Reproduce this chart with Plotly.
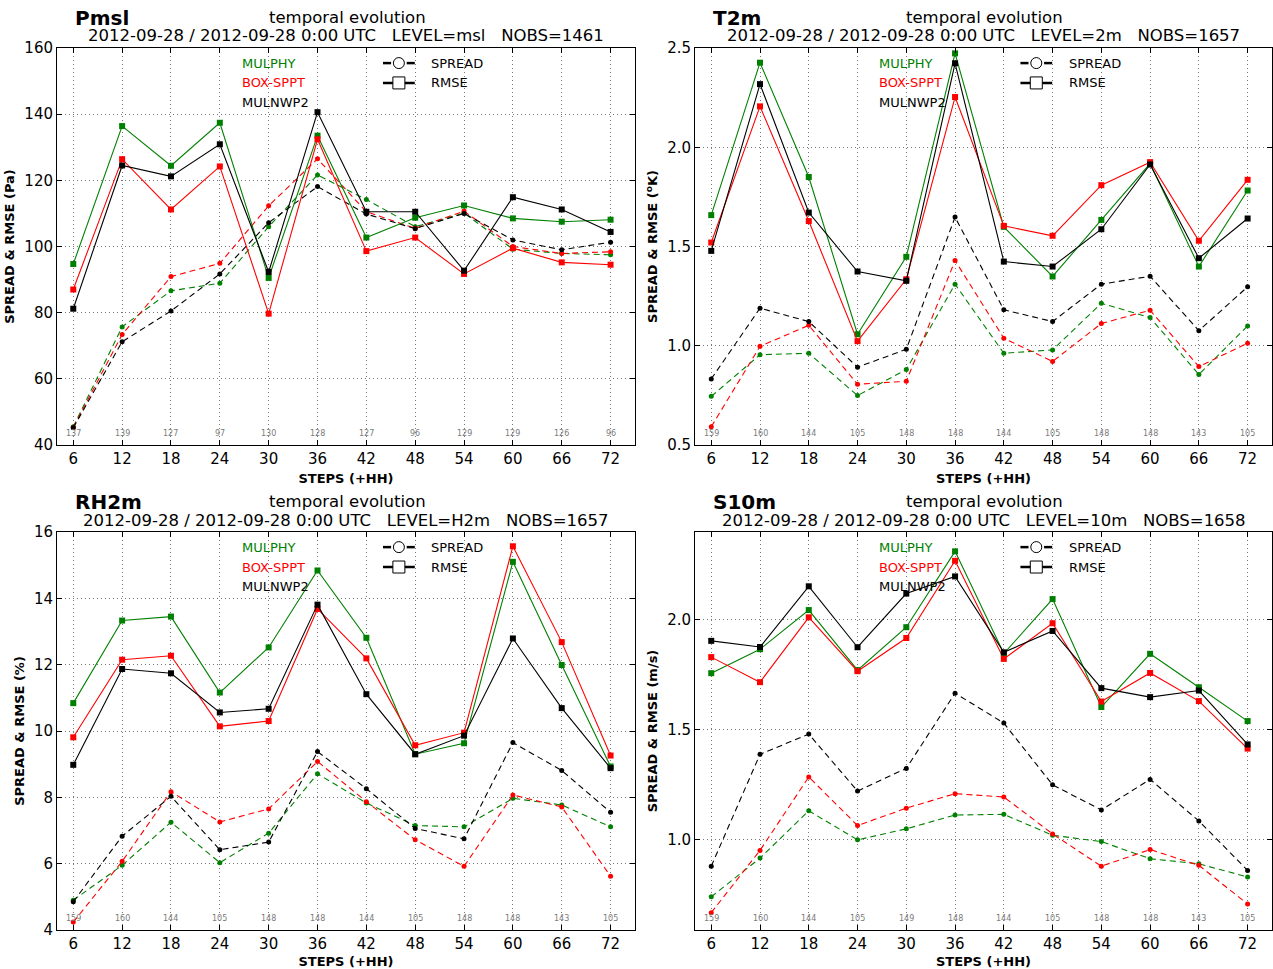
import plotly.graph_objects as go

steps = [6, 12, 18, 24, 30, 36, 42, 48, 54, 60, 66, 72]
experiments = ["MULPHY", "BOX-SPPT", "MULNWP2"]
colors = {"MULPHY": "#008000", "BOX-SPPT": "#ff0000", "MULNWP2": "#000000"}

# ---- Pmsl ----
pmsl_rmse_mulphy = [94.7, 136.4, 124.4, 137.4, 90.5, 133.5, 102.7, 108.7, 112.4, 108.5, 107.5, 108.1]
pmsl_rmse_box = [87.0, 126.4, 111.2, 124.2, 79.7, 132.4, 98.6, 102.7, 91.7, 99.5, 95.2, 94.5]
pmsl_rmse_nwp = [81.2, 124.5, 121.2, 130.9, 92.3, 140.6, 110.5, 110.5, 92.7, 114.9, 111.2, 104.4]
pmsl_spread_mulphy = [45.5, 75.7, 86.6, 88.9, 106.0, 121.6, 114.2, 106.0, 110.1, 99.2, 97.9, 97.5]
pmsl_spread_box = [45.3, 73.4, 90.9, 94.9, 112.3, 126.5, 110.5, 105.5, 110.7, 100.0, 97.9, 98.4]
pmsl_spread_nwp = [45.2, 71.2, 80.5, 91.7, 107.2, 118.1, 109.8, 105.4, 110.0, 102.0, 99.0, 101.3]
pmsl_nobs = [137, 139, 127, 97, 130, 128, 127, 96, 129, 129, 126, 96]

# ---- T2m ----
t2m_rmse_mulphy = [1.658, 2.426, 1.850, 1.058, 1.448, 2.473, 1.599, 1.349, 1.634, 1.918, 1.399, 1.782]
t2m_rmse_box = [1.520, 2.206, 1.628, 1.023, 1.335, 2.253, 1.604, 1.554, 1.809, 1.925, 1.529, 1.836]
t2m_rmse_nwp = [1.478, 2.318, 1.671, 1.374, 1.327, 2.423, 1.424, 1.399, 1.587, 1.913, 1.441, 1.641]
t2m_spread_mulphy = [0.745, 0.955, 0.962, 0.749, 0.880, 1.310, 0.962, 0.979, 1.214, 1.142, 0.855, 1.100]
t2m_spread_box = [0.592, 0.997, 1.103, 0.806, 0.821, 1.429, 1.038, 0.921, 1.112, 1.179, 0.895, 1.013]
t2m_spread_nwp = [0.833, 1.189, 1.122, 0.892, 0.982, 1.648, 1.181, 1.122, 1.310, 1.350, 1.076, 1.297]
t2m_nobs = [159, 160, 144, 105, 148, 148, 144, 105, 148, 148, 143, 105]

# ---- RH2m ----
rh_rmse_mulphy = [10.84, 13.33, 13.45, 11.16, 12.52, 14.84, 12.81, 9.30, 9.63, 15.10, 11.99, 8.93]
rh_rmse_box = [9.81, 12.15, 12.27, 10.14, 10.30, 13.68, 12.19, 9.57, 9.95, 15.57, 12.68, 9.26]
rh_rmse_nwp = [8.98, 11.87, 11.74, 10.56, 10.67, 13.81, 11.11, 9.30, 9.86, 12.79, 10.69, 8.88]
rh_spread_mulphy = [4.90, 5.95, 7.25, 6.03, 6.92, 8.71, 7.83, 7.15, 7.11, 7.97, 7.77, 7.11]
rh_spread_box = [4.24, 6.07, 8.17, 7.26, 7.65, 9.08, 7.87, 6.72, 5.92, 8.07, 7.71, 5.62]
rh_spread_nwp = [4.85, 6.83, 8.03, 6.42, 6.65, 9.38, 8.26, 7.06, 6.75, 9.65, 8.81, 7.55]
rh_nobs = [159, 160, 144, 105, 148, 148, 144, 105, 148, 148, 143, 105]

# ---- S10m ----
s10_rmse_mulphy = [1.758, 1.867, 2.045, 1.772, 1.967, 2.312, 1.847, 2.095, 1.604, 1.846, 1.694, 1.540]
s10_rmse_box = [1.831, 1.717, 2.012, 1.767, 1.918, 2.269, 1.823, 1.985, 1.629, 1.759, 1.631, 1.415]
s10_rmse_nwp = [1.905, 1.877, 2.153, 1.876, 2.120, 2.198, 1.853, 1.950, 1.690, 1.649, 1.679, 1.434]
s10_spread_mulphy = [0.741, 0.917, 1.132, 1.000, 1.050, 1.113, 1.116, 1.021, 0.992, 0.914, 0.891, 0.831]
s10_spread_box = [0.669, 0.952, 1.286, 1.065, 1.144, 1.210, 1.195, 1.027, 0.880, 0.956, 0.884, 0.708]
s10_spread_nwp = [0.880, 1.389, 1.481, 1.222, 1.325, 1.667, 1.531, 1.250, 1.136, 1.275, 1.086, 0.861]
s10_nobs = [159, 160, 144, 105, 149, 148, 144, 105, 148, 148, 143, 105]

panels = [
    dict(name="Pmsl", level="msl", nobs_total=1461, unit="Pa",
         rmse=[pmsl_rmse_mulphy, pmsl_rmse_box, pmsl_rmse_nwp],
         spread=[pmsl_spread_mulphy, pmsl_spread_box, pmsl_spread_nwp],
         nobs=pmsl_nobs, yrange=[40, 160], dtick=20, tick0=40, fmt="d"),
    dict(name="T2m", level="2m", nobs_total=1657, unit="<sup>o</sup>K",
         rmse=[t2m_rmse_mulphy, t2m_rmse_box, t2m_rmse_nwp],
         spread=[t2m_spread_mulphy, t2m_spread_box, t2m_spread_nwp],
         nobs=t2m_nobs, yrange=[0.5, 2.5], dtick=0.5, tick0=0.5, fmt=".1f"),
    dict(name="RH2m", level="H2m", nobs_total=1657, unit="%",
         rmse=[rh_rmse_mulphy, rh_rmse_box, rh_rmse_nwp],
         spread=[rh_spread_mulphy, rh_spread_box, rh_spread_nwp],
         nobs=rh_nobs, yrange=[4, 16], dtick=2, tick0=4, fmt="d"),
    dict(name="S10m", level="10m", nobs_total=1658, unit="m/s",
         rmse=[s10_rmse_mulphy, s10_rmse_box, s10_rmse_nwp],
         spread=[s10_spread_mulphy, s10_spread_box, s10_spread_nwp],
         nobs=s10_nobs, yrange=[0.59, 2.40], dtick=0.5, tick0=0.5, fmt=".1f"),
]

W, H = 1273, 969
# pixel boxes (left, top, right, bottom)
boxes = [(57, 48, 635, 445), (695, 48, 1272, 445), (57, 532, 635, 930), (695, 532, 1272, 930)]

FONT = "DejaVu Sans"
fig = go.Figure()
layout = dict(width=W, height=H, margin=dict(l=0, r=0, t=0, b=0, autoexpand=False),
              paper_bgcolor="white", plot_bgcolor="white", showlegend=False,
              font=dict(family=FONT, color="black"))
annotations = []
shapes = []

for i, (p, box) in enumerate(zip(panels, boxes)):
    n = "" if i == 0 else str(i + 1)
    xa, ya = "x" + n, "y" + n
    l, t, r, b = box
    layout["xaxis" + n] = dict(
        domain=[l / W, r / W], anchor=ya, range=[4, 75], automargin=False,
        tickmode="array", tickvals=steps, ticktext=[str(s) for s in steps],
        ticks="inside", ticklen=5, tickcolor="black", mirror="ticks",
        showline=True, linecolor="black", linewidth=1,
        showgrid=True, gridcolor="#777777", gridwidth=0.8, griddash="1px,3px",
        zeroline=False, tickfont=dict(size=15, family=FONT),
        title=dict(text="<b>STEPS (+HH)</b>", font=dict(size=13, family=FONT), standoff=6),
    )
    layout["yaxis" + n] = dict(
        domain=[1 - b / H, 1 - t / H], anchor=xa, range=p["yrange"], automargin=False,
        tick0=p["tick0"], dtick=p["dtick"], tickformat=p["fmt"],
        ticks="inside", ticklen=5, tickcolor="black", mirror="ticks",
        showline=True, linecolor="black", linewidth=1,
        showgrid=True, gridcolor="#777777", gridwidth=0.8, griddash="1px,3px",
        zeroline=False, tickfont=dict(size=15, family=FONT),
        title=dict(text="<b>SPREAD & RMSE (" + p["unit"] + ")</b>",
                   font=dict(size=13, family=FONT), standoff=6),
    )
    # spread (dashed, circles)
    for e, vals in zip(experiments, p["spread"]):
        fig.add_trace(go.Scatter(x=steps, y=vals, xaxis=xa, yaxis=ya, mode="lines+markers",
                                 line=dict(color=colors[e], width=1.1, dash="6px,4px"),
                                 marker=dict(symbol="circle", size=5, color=colors[e]),
                                 name=e + " SPREAD", cliponaxis=False))
    # rmse (solid, squares)
    for e, vals in zip(experiments, p["rmse"]):
        fig.add_trace(go.Scatter(x=steps, y=vals, xaxis=xa, yaxis=ya, mode="lines+markers",
                                 line=dict(color=colors[e], width=1.1),
                                 marker=dict(symbol="square", size=6, color=colors[e]),
                                 name=e + " RMSE", cliponaxis=False))
    # nobs per step
    for s, nb in zip(steps, p["nobs"]):
        annotations.append(dict(x=s, y=0.028, xref=xa, yref=ya + " domain", text=str(nb),
                                showarrow=False, font=dict(size=8, color="#7a7a7a", family=FONT),
                                xanchor="center", yanchor="middle"))
    # titles
    cx = (l + r) / 2
    annotations.append(dict(x=(l + 16) / W, y=1 - (t - 30) / H,
                            xref="paper", yref="paper", text="<b>" + p["name"] + "</b>",
                            showarrow=False, font=dict(size=20, family=FONT), xanchor="left", yanchor="middle"))
    annotations.append(dict(x=(cx + 1) / W, y=1 - (t - 31) / H, xref="paper", yref="paper",
                            text="temporal evolution", showarrow=False,
                            font=dict(size=16.5, family=FONT), xanchor="center", yanchor="middle"))
    annotations.append(dict(x=(cx + 0) / W, y=1 - (t - 12) / H, xref="paper", yref="paper",
                            text="2012-09-28 / 2012-09-28 0:00 UTC   LEVEL=" + p["level"] + "   NOBS=" + str(p["nobs_total"]),
                            showarrow=False, font=dict(size=16.5, family=FONT), xanchor="center", yanchor="middle"))
    # experiment legend texts
    for k, e in enumerate(experiments):
        annotations.append(dict(x=0.316, y=0.962 - 0.05 * k, xref=xa + " domain", yref=ya + " domain",
                                text=e, showarrow=False, font=dict(size=13, color=colors[e], family=FONT),
                                xanchor="left", yanchor="middle"))
    # style legend
    for k, (lab, dash) in enumerate([("SPREAD", "dash"), ("RMSE", "solid")]):
        yy = 0.962 - 0.05 * k
        if dash == "dash":
            shapes.append(dict(type="line", xref=xa + " domain", yref=ya + " domain",
                               x0=0.564, x1=0.578, y0=yy, y1=yy, line=dict(color="black", width=2.5)))
            shapes.append(dict(type="line", xref=xa + " domain", yref=ya + " domain",
                               x0=0.605, x1=0.619, y0=yy, y1=yy, line=dict(color="black", width=2.5)))
            shapes.append(dict(type="circle", xref=xa + " domain", yref=ya + " domain",
                               xsizemode="pixel", ysizemode="pixel", xanchor=0.5915, yanchor=yy,
                               x0=-5.5, x1=5.5, y0=-5.5, y1=5.5,
                               line=dict(color="black", width=1), fillcolor="white"))
        else:
            shapes.append(dict(type="line", xref=xa + " domain", yref=ya + " domain",
                               x0=0.564, x1=0.619, y0=yy, y1=yy, line=dict(color="black", width=2.5)))
            shapes.append(dict(type="rect", xref=xa + " domain", yref=ya + " domain",
                               xsizemode="pixel", ysizemode="pixel", xanchor=0.5915, yanchor=yy,
                               x0=-6, x1=6, y0=-6, y1=6,
                               line=dict(color="black", width=1), fillcolor="white"))
        annotations.append(dict(x=0.644, y=yy, xref=xa + " domain", yref=ya + " domain",
                                text=lab, showarrow=False, font=dict(size=13, family=FONT),
                                xanchor="left", yanchor="middle"))

layout["annotations"] = annotations
layout["shapes"] = shapes
fig.update_layout(**layout)
fig.write_html("out.html")
